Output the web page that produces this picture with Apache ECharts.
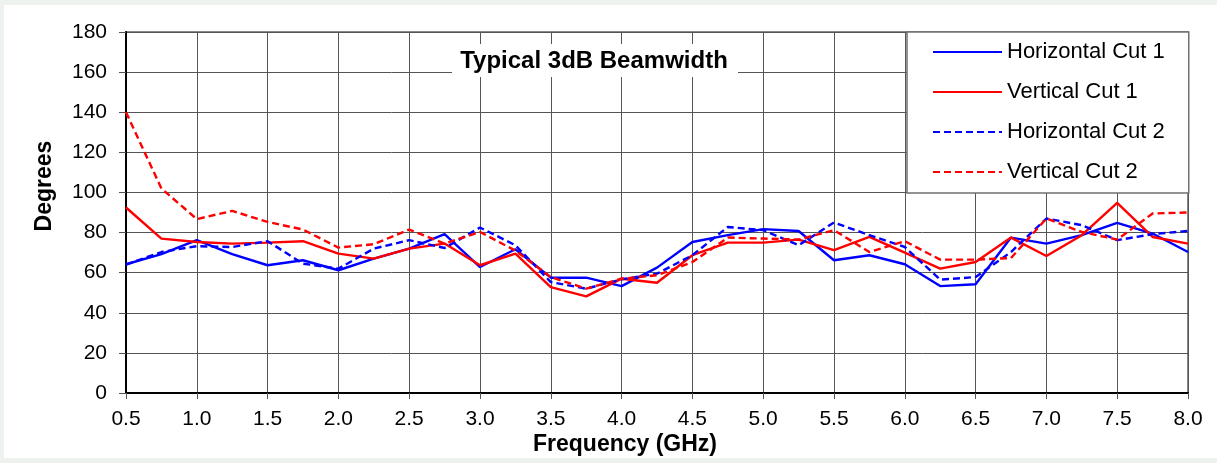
<!DOCTYPE html>
<html>
<head>
<meta charset="utf-8">
<script src="https://cdn.jsdelivr.net/npm/echarts@6/dist/echarts.min.js"></script>
<style>
html,body{margin:0;padding:0;background:#eef2ee;width:1217px;height:463px;overflow:hidden;}
#chart{position:absolute;left:4px;top:5px;width:1213px;height:453px;background:#ffffff;}
</style>
</head>
<body>
<div id="chart"></div>
<script>
const freq = [0.5,0.75,1.0,1.25,1.5,1.75,2.0,2.25,2.5,2.75,3.0,3.25,3.5,3.75,4.0,4.25,4.5,4.75,5.0,5.25,5.5,5.75,6.0,6.25,6.5,6.75,7.0,7.25,7.5,7.75,8.0];
const horizontalCut1 = [64.2,69.2,76.2,69.2,63.7,66.2,61.2,67,72,79.2,62.8,71.7,57.5,57.5,53.3,62.5,75.3,78.7,81.7,80.8,66.2,68.7,64.2,53.3,54.2,77.5,74.5,78.7,84.8,79.5,70.3];
const verticalCut1 = [92.5,77,75.3,74.5,75,75.7,69.5,67,72,74.5,63.7,69.5,52.8,48.2,57,55,68.7,75,75,76.5,71.2,77.8,70,62,65.3,77.5,68.3,78.7,94.8,77.8,74.5];
const horizontalCut2 = [64,70.3,73.2,72.8,75.7,64.5,62,72,76.2,72.3,82.5,73.7,55.3,52,56.7,59.5,68.7,82.8,81.2,73.7,85,78.7,72.8,56.5,57.8,70.3,87,83.7,76.2,79.2,80.8];
const verticalCut2 = [140,102,86.7,90.8,85.3,81.5,72.5,74.2,81.5,74.5,80.3,71,57.8,52,57,58.7,65.3,77.5,77,76.5,81.2,70.3,75.7,66.5,66.5,67.3,87,80.3,76.5,89.5,90];
const seriesNames = ['Horizontal Cut 1','Vertical Cut 1','Horizontal Cut 2','Vertical Cut 2'];
const titleText = 'Typical 3dB Beamwidth';
const xName = 'Frequency (GHz)';
const yName = 'Degrees';

const FONT = '"Liberation Sans", Arial, sans-serif';
const pairs = arr => arr.map((v, i) => [freq[i], v]);

function mk(name, data, color, dashed) {
  return {
    name: name, type: 'line', data: pairs(data), symbol: 'none',
    lineStyle: { color: color, width: 2.4, type: dashed ? [7, 4] : 'solid' },
    itemStyle: { color: color },
    emphasis: { disabled: true }
  };
}

const chart = echarts.init(document.getElementById('chart'));
chart.setOption({
  animation: false,
  grid: { left: 122, top: 27, right: 29, bottom: 65, show: true, borderColor: '#888888', borderWidth: 2, backgroundColor: 'transparent' },
  xAxis: {
    type: 'value', min: 0.5, max: 8, interval: 0.5,
    axisLine: { show: true, onZero: false, lineStyle: { color: '#000', width: 2 } },
    axisTick: { show: true, length: 6, lineStyle: { color: '#555' } },
    axisLabel: { color: '#000', fontSize: 21, fontFamily: FONT, margin: 16, formatter: v => v.toFixed(1) },
    splitLine: { show: true, lineStyle: { color: '#555', width: 1 } }
  },
  yAxis: {
    type: 'value', min: 0, max: 180, interval: 20,
    axisLine: { show: true, lineStyle: { color: '#000', width: 2 } },
    axisTick: { show: true, length: 7, lineStyle: { color: '#555' } },
    axisLabel: { color: '#000', fontSize: 21, fontFamily: FONT, margin: 19 },
    splitLine: { show: true, lineStyle: { color: '#555', width: 1 } }
  },
  legend: {
    orient: 'vertical', left: 903, top: 27,
    padding: [9, 24, 10, 25], itemGap: 18, itemWidth: 69, itemHeight: 14,
    backgroundColor: '#ffffff', borderColor: '#707070', borderWidth: 1.5,
    itemStyle: { opacity: 0 },
    textStyle: { color: '#000', fontSize: 22, fontFamily: FONT, lineHeight: 22 },
    data: seriesNames
  },
  graphic: [
    { type: 'rect', left: 448, top: 39, shape: { width: 286, height: 33 }, style: { fill: '#ffffff' }, z: 50 },
    { type: 'text', x: 590, y: 56, z: 51, style: { text: titleText, fill: '#000', font: 'bold 24px ' + FONT, textAlign: 'center', textVerticalAlign: 'middle' } },
    { type: 'text', x: 621, y: 440, z: 51, style: { text: xName, fill: '#000', font: 'bold 23px ' + FONT, textAlign: 'center', textVerticalAlign: 'middle' } },
    { type: 'text', x: 41, y: 181, rotation: Math.PI / 2, z: 51, style: { text: yName, fill: '#000', font: 'bold 23px ' + FONT, textAlign: 'center', textVerticalAlign: 'middle' } }
  ],
  series: [
    mk(seriesNames[0], horizontalCut1, '#0000ff', false),
    mk(seriesNames[1], verticalCut1, '#ff0000', false),
    mk(seriesNames[2], horizontalCut2, '#0000ff', true),
    mk(seriesNames[3], verticalCut2, '#ff0000', true)
  ]
});
</script>
</body>
</html>
